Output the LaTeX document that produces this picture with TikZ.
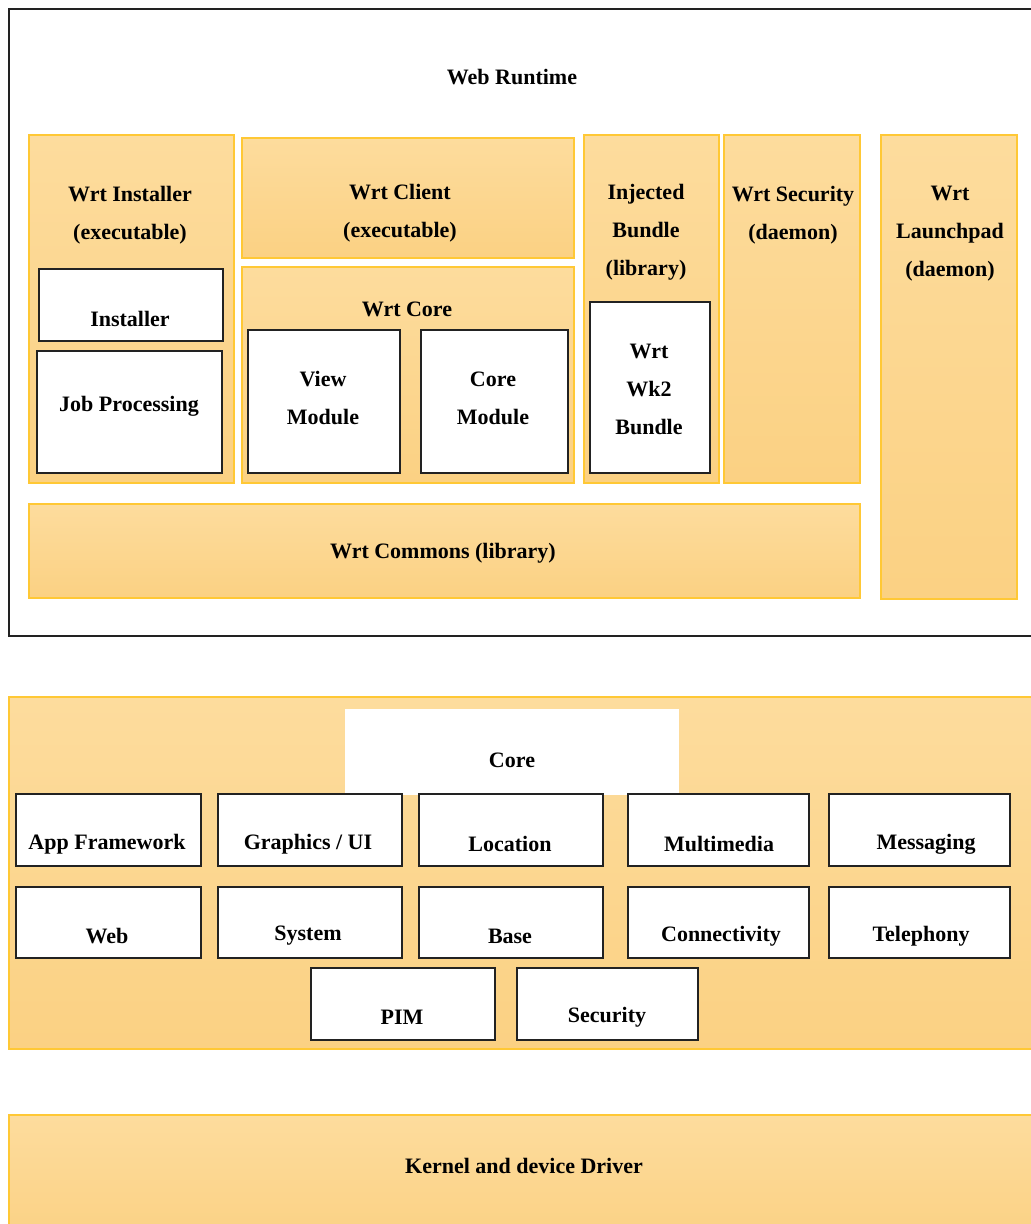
\documentclass[tikz,border=0pt]{standalone}
\usepackage{fontspec}
\setmainfont{Liberation Serif}[BoldFont={Liberation Serif Bold}]
\definecolor{amberTop}{HTML}{FDDC9D}
\definecolor{amberBot}{HTML}{FBD183}
\definecolor{amberLine}{HTML}{FFC835}
\definecolor{inkLine}{HTML}{222222}
\begin{document}
\begin{tikzpicture}[x=1pt,y=-1pt,
  every node/.style={font=\fontsize{22}{38}\selectfont\bfseries},
  region/.style={draw=inkLine, line width=2.2pt, fill=white, anchor=north west, inner sep=0pt},
  layer/.style={draw=amberLine, line width=1.6pt, top color=amberTop, bottom color=amberBot, anchor=north west, inner sep=0pt},
  module/.style={draw=inkLine, line width=1.8pt, fill=white, anchor=north west, inner sep=0pt},
  blank/.style={fill=white, anchor=north west, inner sep=0pt},
  caption/.style={align=center, inner sep=0pt, text=black}
]
\useasboundingbox (0,0) rectangle (1031,1224);
\clip (0,0) rectangle (1031,1224);
\fill[white] (0,0) rectangle (1031,1224);

% ---------- Web Runtime ----------
\node[region, minimum width=1040pt, minimum height=627pt] (wrt) at (8,8) {};
\node[caption] (wrtT) at (512,77) {Web Runtime};

\node[layer, minimum width=205pt, minimum height=348pt] (inst) at (28,134) {};
\node[caption] (instT) at (130,215) {Wrt Installer\\(executable)};
\node[module, minimum width=184pt, minimum height=72pt] (installer) at (38,268) {};
\node[caption] (installerT) at (130,319) {Installer};
\node[module, minimum width=185pt, minimum height=122pt] (job) at (36,350) {};
\node[caption] (jobT) at (129,406) {Job Processing};

\node[layer, minimum width=332pt, minimum height=120pt] (client) at (241,137) {};
\node[caption] (clientT) at (400,213) {Wrt Client\\(executable)};
\node[layer, minimum width=332pt, minimum height=216pt] (wcore) at (241,266) {};
\node[caption] (wcoreT) at (407,309) {Wrt Core};
\node[module, minimum width=152pt, minimum height=143pt] (view) at (247,329) {};
\node[caption] (viewT) at (323,398) {View\\Module};
\node[module, minimum width=147pt, minimum height=143pt] (cmod) at (420,329) {};
\node[caption] (cmodT) at (493,398) {Core\\Module};

\node[layer, minimum width=135pt, minimum height=348pt] (inj) at (583,134) {};
\node[caption] (injT) at (646,232) {Injected\\Bundle\\(library)};
\node[module, minimum width=120pt, minimum height=171pt] (wk2) at (589,301) {};
\node[caption] (wk2T) at (649,389) {Wrt\\Wk2\\Bundle};

\node[layer, minimum width=136pt, minimum height=348pt] (sec) at (723,134) {};
\node[caption] (secT) at (793,215) {Wrt Security\\(daemon)};

\node[layer, minimum width=136pt, minimum height=464pt] (launch) at (880,134) {};
\node[caption] (launchT) at (950,234) {Wrt\\Launchpad\\(daemon)};

\node[layer, minimum width=831pt, minimum height=94pt] (commons) at (28,503) {};
\node[caption] (commonsT) at (443,553) {Wrt Commons (library)};

% ---------- Platform ----------
\node[layer, minimum width=1040pt, minimum height=352pt] (platform) at (8,696) {};
\node[blank, minimum width=334pt, minimum height=86pt] (core) at (345,709) {};
\node[caption] (coreT) at (512,760) {Core};

\node[module, minimum width=185pt, minimum height=72pt] (appfw) at (15,793) {};
\node[caption] (appfwT) at (107,844) {App Framework};
\node[module, minimum width=184pt, minimum height=72pt] (gfx) at (217,793) {};
\node[caption] (gfxT) at (308,844) {Graphics / UI};
\node[module, minimum width=184pt, minimum height=72pt] (loc) at (418,793) {};
\node[caption] (locT) at (510,844) {Location};
\node[module, minimum width=181pt, minimum height=72pt] (mm) at (627,793) {};
\node[caption] (mmT) at (719,844) {Multimedia};
\node[module, minimum width=181pt, minimum height=72pt] (msg) at (828,793) {};
\node[caption] (msgT) at (926,844) {Messaging};

\node[module, minimum width=185pt, minimum height=71pt] (web) at (15,886) {};
\node[caption] (webT) at (107,936) {Web};
\node[module, minimum width=184pt, minimum height=71pt] (sys) at (217,886) {};
\node[caption] (sysT) at (308,936) {System};
\node[module, minimum width=184pt, minimum height=71pt] (base) at (418,886) {};
\node[caption] (baseT) at (510,936) {Base};
\node[module, minimum width=181pt, minimum height=71pt] (conn) at (627,886) {};
\node[caption] (connT) at (721,936) {Connectivity};
\node[module, minimum width=181pt, minimum height=71pt] (tel) at (828,886) {};
\node[caption] (telT) at (921,936) {Telephony};

\node[module, minimum width=184pt, minimum height=72pt] (pim) at (310,967) {};
\node[caption] (pimT) at (402,1017) {PIM};
\node[module, minimum width=181pt, minimum height=72pt] (secu) at (516,967) {};
\node[caption] (secuT) at (607,1017) {Security};

% ---------- Kernel ----------
\node[layer, minimum width=1040pt, minimum height=130pt] (kernel) at (8,1114) {};
\node[caption] (kernelT) at (524,1166) {Kernel and device Driver};
\end{tikzpicture}
\end{document}
